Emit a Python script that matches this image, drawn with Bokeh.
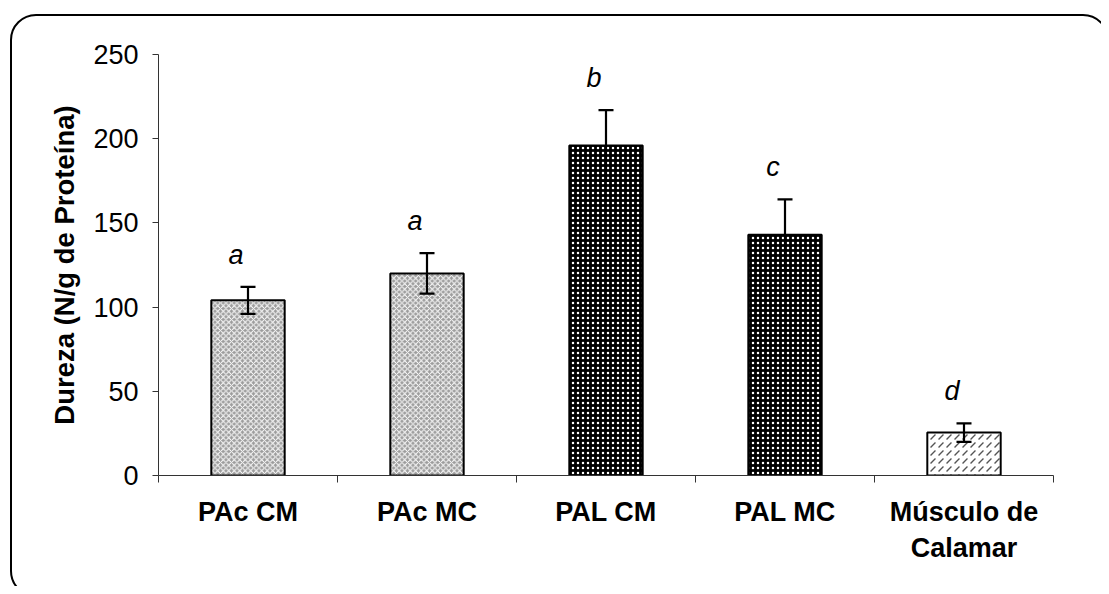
from bokeh.plotting import figure
from bokeh.models import Range1d, FixedTicker, ColumnDataSource, Whisker, TeeHead, InlineStyleSheet
from bokeh.core.properties import value
from bokeh.embed import file_html
from bokeh.resources import INLINE

# ---- data ----
categories = ["PAc CM", "PAc MC", "PAL CM", "PAL MC", "Músculo de\nCalamar"]
means = [104, 120, 196, 143, 25.5]
errors = [8, 12, 21, 21, 5.5]
letters = ["a", "a", "b", "c", "d"]
y_ticks = [0, 50, 100, 150, 200, 250]

# ---- styles ----
FONT = "Liberation Sans"
fill_colors = ["#9c9c9c", "#9c9c9c", "#000000", "#000000", "#ffffff"]
hatch_patterns = ["diagonal_cross", "diagonal_cross", "dot", "dot", "right_diagonal_dash"]
hatch_colors = ["#ffffff", "#ffffff", "#ffffff", "#ffffff", "#555555"]
hatch_scales = [5.5, 5.5, 5, 5, 8]
hatch_weights = [1, 1, 0.9, 0.9, 1.3]
LETTER_GAP = 19

xs = [i + 0.5 for i in range(len(categories))]
src = ColumnDataSource(dict(
    x=xs, top=means,
    upper=[m + e for m, e in zip(means, errors)],
    lower=[m - e for m, e in zip(means, errors)],
    letter=letters,
    ly=[m + e + LETTER_GAP for m, e in zip(means, errors)],
    fill=fill_colors, hp=hatch_patterns, hc=hatch_colors, hs=hatch_scales, hw=hatch_weights,
))

W, H = 1101, 586
p = figure(width=W, height=H, output_backend="svg", toolbar_location=None,
           x_range=Range1d(0, len(categories)), y_range=Range1d(0, 250),
           min_border_left=158, min_border_right=48, min_border_top=54, min_border_bottom=111)
p.xgrid.visible = False
p.ygrid.visible = False
p.outline_line_color = None
p.background_fill_color = "white"
p.border_fill_color = "white"

p.vbar(x="x", top="top", width=0.41, bottom=0, source=src,
       fill_color="fill", line_color="black", line_width=2,
       hatch_pattern="hp", hatch_color="hc", hatch_scale="hs", hatch_weight="hw")

wh = Whisker(source=src, base="x", upper="upper", lower="lower",
             line_color="black", line_width=2.2, level="annotation",
             upper_head=TeeHead(size=15, line_color="black", line_width=2.2),
             lower_head=TeeHead(size=15, line_color="black", line_width=2.2))
p.add_layout(wh)

p.text(x="x", y="ly", text="letter", source=src, x_offset=-12,
       text_font=value(FONT), text_font_size="27px", text_font_style="italic",
       text_color="black", text_align="center", text_baseline="middle")

# y axis
ya = p.yaxis[0]
ya.ticker = FixedTicker(ticks=y_ticks)
ya.axis_label = "Dureza (N/g de Proteína)"
ya.axis_label_text_font = FONT
ya.axis_label_text_font_size = "27.5px"
ya.axis_label_text_font_style = "bold"
ya.axis_label_text_color = "black"
ya.axis_label_standoff = 10
ya.major_label_text_font = FONT
ya.major_label_text_font_size = "27px"
ya.major_label_text_color = "black"
ya.major_label_standoff = 14
ya.major_tick_in = 0
ya.major_tick_out = 6
ya.minor_tick_line_color = None
ya.axis_line_color = "#333333"
ya.major_tick_line_color = "#333333"

# x axis: ticks at category boundaries, labels at centers
xa = p.xaxis[0]
xa.ticker = FixedTicker(ticks=xs, minor_ticks=list(range(len(categories) + 1)))
xa.major_label_overrides = {x: c for x, c in zip(xs, categories)}
xa.major_label_text_font = FONT
xa.major_label_text_font_size = "27px"
xa.major_label_text_font_style = "bold"
xa.major_label_text_color = "black"
xa.major_label_text_line_height = 1.22
xa.major_label_standoff = 14
xa.major_tick_line_color = None
xa.minor_tick_line_color = "#333333"
xa.minor_tick_in = 0
xa.minor_tick_out = 7
xa.axis_line_color = "#333333"

# rounded border around the chart area
p.stylesheets = [InlineStyleSheet(css="""
:host { position: relative; overflow: hidden; }
:host::after {
  content: ""; position: absolute; left: 10px; top: 14px;
  width: 1099px; height: 583px; box-sizing: border-box;
  border: 2.5px solid black; border-radius: 26px; pointer-events: none;
}
""")]

open("out.html", "w").write(file_html(p, INLINE))
